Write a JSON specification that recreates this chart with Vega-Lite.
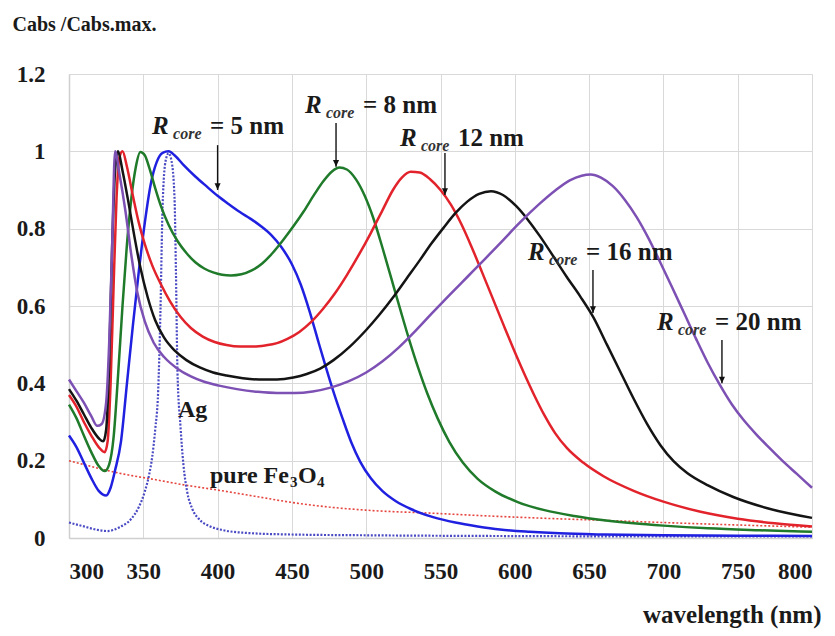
{
  "$schema": "https://vega.github.io/schema/vega-lite/v6.json",
  "width": 743,
  "height": 464,
  "autosize": {"type": "none"},
  "padding": {"left": 69, "top": 74, "right": 23, "bottom": 98},
  "background": "white",
  "config": {
    "view": {"stroke": null},
    "axis": {
      "labelFontWeight": "bold",
      "labelColor": "#1a1a1a",
      "titleFontWeight": "bold",
      "titleColor": "#1a1a1a",
      "gridColor": "#d9d9d9",
      "gridWidth": 1,
      "domainColor": "#cfcfcf",
      "domainWidth": 1.5,
      "ticks": false
    }
  },
  "datasets": {
    "curves": [
      {"s":"R5","wl":300,"v":0.265},{"s":"R5","wl":305,"v":0.235},{"s":"R5","wl":310,"v":0.195},{"s":"R5","wl":315,"v":0.155},{"s":"R5","wl":320,"v":0.122},{"s":"R5","wl":325,"v":0.11},{"s":"R5","wl":328,"v":0.13},{"s":"R5","wl":331,"v":0.175},{"s":"R5","wl":335,"v":0.25},{"s":"R5","wl":339,"v":0.4},{"s":"R5","wl":343,"v":0.55},{"s":"R5","wl":347,"v":0.69},{"s":"R5","wl":351,"v":0.815},{"s":"R5","wl":355,"v":0.915},{"s":"R5","wl":359,"v":0.972},{"s":"R5","wl":363,"v":0.996},{"s":"R5","wl":367,"v":1.0},{"s":"R5","wl":371,"v":0.99},{"s":"R5","wl":377,"v":0.965},{"s":"R5","wl":385,"v":0.935},{"s":"R5","wl":393,"v":0.908},{"s":"R5","wl":400,"v":0.885},{"s":"R5","wl":408,"v":0.862},{"s":"R5","wl":415,"v":0.843},{"s":"R5","wl":422,"v":0.826},{"s":"R5","wl":429,"v":0.807},{"s":"R5","wl":436,"v":0.784},{"s":"R5","wl":443,"v":0.752},{"s":"R5","wl":450,"v":0.708},{"s":"R5","wl":456,"v":0.655},{"s":"R5","wl":462,"v":0.585},{"s":"R5","wl":468,"v":0.505},{"s":"R5","wl":473,"v":0.44},{"s":"R5","wl":478,"v":0.378},{"s":"R5","wl":484,"v":0.31},{"s":"R5","wl":490,"v":0.247},{"s":"R5","wl":496,"v":0.197},{"s":"R5","wl":503,"v":0.155},{"s":"R5","wl":511,"v":0.121},{"s":"R5","wl":520,"v":0.095},{"s":"R5","wl":530,"v":0.075},{"s":"R5","wl":545,"v":0.054},{"s":"R5","wl":560,"v":0.04},{"s":"R5","wl":575,"v":0.03},{"s":"R5","wl":590,"v":0.022},{"s":"R5","wl":610,"v":0.016},{"s":"R5","wl":630,"v":0.012},{"s":"R5","wl":660,"v":0.009},{"s":"R5","wl":700,"v":0.007},{"s":"R5","wl":750,"v":0.006},{"s":"R5","wl":800,"v":0.005},

      {"s":"R8","wl":300,"v":0.345},{"s":"R8","wl":305,"v":0.31},{"s":"R8","wl":310,"v":0.265},{"s":"R8","wl":315,"v":0.222},{"s":"R8","wl":320,"v":0.186},{"s":"R8","wl":324,"v":0.173},{"s":"R8","wl":327,"v":0.19},{"s":"R8","wl":330,"v":0.26},{"s":"R8","wl":333,"v":0.42},{"s":"R8","wl":336,"v":0.6},{"s":"R8","wl":339,"v":0.76},{"s":"R8","wl":342,"v":0.88},{"s":"R8","wl":345,"v":0.96},{"s":"R8","wl":348,"v":0.998},{"s":"R8","wl":351,"v":0.99},{"s":"R8","wl":354,"v":0.958},{"s":"R8","wl":358,"v":0.905},{"s":"R8","wl":362,"v":0.857},{"s":"R8","wl":367,"v":0.81},{"s":"R8","wl":373,"v":0.768},{"s":"R8","wl":379,"v":0.737},{"s":"R8","wl":385,"v":0.713},{"s":"R8","wl":391,"v":0.697},{"s":"R8","wl":397,"v":0.687},{"s":"R8","wl":403,"v":0.681},{"s":"R8","wl":409,"v":0.679},{"s":"R8","wl":416,"v":0.682},{"s":"R8","wl":423,"v":0.692},{"s":"R8","wl":430,"v":0.71},{"s":"R8","wl":437,"v":0.737},{"s":"R8","wl":444,"v":0.77},{"s":"R8","wl":451,"v":0.806},{"s":"R8","wl":458,"v":0.845},{"s":"R8","wl":465,"v":0.888},{"s":"R8","wl":471,"v":0.922},{"s":"R8","wl":477,"v":0.948},{"s":"R8","wl":482,"v":0.958},{"s":"R8","wl":487,"v":0.953},{"s":"R8","wl":493,"v":0.928},{"s":"R8","wl":499,"v":0.885},{"s":"R8","wl":505,"v":0.825},{"s":"R8","wl":511,"v":0.75},{"s":"R8","wl":517,"v":0.67},{"s":"R8","wl":523,"v":0.59},{"s":"R8","wl":529,"v":0.512},{"s":"R8","wl":535,"v":0.44},{"s":"R8","wl":541,"v":0.375},{"s":"R8","wl":548,"v":0.31},{"s":"R8","wl":556,"v":0.248},{"s":"R8","wl":565,"v":0.195},{"s":"R8","wl":575,"v":0.153},{"s":"R8","wl":587,"v":0.12},{"s":"R8","wl":602,"v":0.093},{"s":"R8","wl":620,"v":0.072},{"s":"R8","wl":640,"v":0.057},{"s":"R8","wl":660,"v":0.046},{"s":"R8","wl":680,"v":0.038},{"s":"R8","wl":700,"v":0.032},{"s":"R8","wl":730,"v":0.025},{"s":"R8","wl":765,"v":0.02},{"s":"R8","wl":800,"v":0.016},

      {"s":"R12","wl":300,"v":0.37},{"s":"R12","wl":305,"v":0.34},{"s":"R12","wl":310,"v":0.3},{"s":"R12","wl":315,"v":0.265},{"s":"R12","wl":320,"v":0.235},{"s":"R12","wl":324,"v":0.222},{"s":"R12","wl":326,"v":0.25},{"s":"R12","wl":328,"v":0.4},{"s":"R12","wl":330,"v":0.65},{"s":"R12","wl":332,"v":0.88},{"s":"R12","wl":334,"v":0.985},{"s":"R12","wl":336,"v":1.0},{"s":"R12","wl":339,"v":0.96},{"s":"R12","wl":343,"v":0.885},{"s":"R12","wl":347,"v":0.815},{"s":"R12","wl":351,"v":0.76},{"s":"R12","wl":356,"v":0.705},{"s":"R12","wl":362,"v":0.655},{"s":"R12","wl":368,"v":0.612},{"s":"R12","wl":375,"v":0.572},{"s":"R12","wl":382,"v":0.543},{"s":"R12","wl":390,"v":0.521},{"s":"R12","wl":398,"v":0.507},{"s":"R12","wl":406,"v":0.499},{"s":"R12","wl":415,"v":0.495},{"s":"R12","wl":424,"v":0.495},{"s":"R12","wl":432,"v":0.498},{"s":"R12","wl":440,"v":0.504},{"s":"R12","wl":447,"v":0.515},{"s":"R12","wl":455,"v":0.533},{"s":"R12","wl":463,"v":0.559},{"s":"R12","wl":471,"v":0.593},{"s":"R12","wl":479,"v":0.633},{"s":"R12","wl":487,"v":0.68},{"s":"R12","wl":495,"v":0.732},{"s":"R12","wl":503,"v":0.788},{"s":"R12","wl":511,"v":0.848},{"s":"R12","wl":518,"v":0.9},{"s":"R12","wl":524,"v":0.932},{"s":"R12","wl":530,"v":0.947},{"s":"R12","wl":536,"v":0.945},{"s":"R12","wl":543,"v":0.928},{"s":"R12","wl":550,"v":0.9},{"s":"R12","wl":557,"v":0.862},{"s":"R12","wl":564,"v":0.812},{"s":"R12","wl":571,"v":0.752},{"s":"R12","wl":578,"v":0.687},{"s":"R12","wl":585,"v":0.621},{"s":"R12","wl":592,"v":0.555},{"s":"R12","wl":599,"v":0.49},{"s":"R12","wl":606,"v":0.428},{"s":"R12","wl":613,"v":0.37},{"s":"R12","wl":620,"v":0.317},{"s":"R12","wl":627,"v":0.272},{"s":"R12","wl":635,"v":0.233},{"s":"R12","wl":646,"v":0.195},{"s":"R12","wl":660,"v":0.159},{"s":"R12","wl":680,"v":0.122},{"s":"R12","wl":700,"v":0.094},{"s":"R12","wl":725,"v":0.068},{"s":"R12","wl":750,"v":0.05},{"s":"R12","wl":775,"v":0.038},{"s":"R12","wl":800,"v":0.03},

      {"s":"R16","wl":300,"v":0.385},{"s":"R16","wl":305,"v":0.355},{"s":"R16","wl":310,"v":0.32},{"s":"R16","wl":315,"v":0.285},{"s":"R16","wl":320,"v":0.258},{"s":"R16","wl":323,"v":0.25},{"s":"R16","wl":325,"v":0.28},{"s":"R16","wl":327,"v":0.45},{"s":"R16","wl":329,"v":0.75},{"s":"R16","wl":331,"v":0.95},{"s":"R16","wl":333,"v":1.0},{"s":"R16","wl":336,"v":0.95},{"s":"R16","wl":340,"v":0.868},{"s":"R16","wl":344,"v":0.78},{"s":"R16","wl":348,"v":0.7},{"s":"R16","wl":353,"v":0.622},{"s":"R16","wl":358,"v":0.563},{"s":"R16","wl":364,"v":0.518},{"s":"R16","wl":371,"v":0.485},{"s":"R16","wl":379,"v":0.46},{"s":"R16","wl":388,"v":0.441},{"s":"R16","wl":397,"v":0.428},{"s":"R16","wl":406,"v":0.42},{"s":"R16","wl":417,"v":0.413},{"s":"R16","wl":428,"v":0.41},{"s":"R16","wl":440,"v":0.41},{"s":"R16","wl":451,"v":0.415},{"s":"R16","wl":460,"v":0.424},{"s":"R16","wl":469,"v":0.438},{"s":"R16","wl":478,"v":0.46},{"s":"R16","wl":489,"v":0.495},{"s":"R16","wl":500,"v":0.538},{"s":"R16","wl":509,"v":0.578},{"s":"R16","wl":518,"v":0.622},{"s":"R16","wl":527,"v":0.67},{"s":"R16","wl":536,"v":0.718},{"s":"R16","wl":544,"v":0.762},{"s":"R16","wl":552,"v":0.802},{"s":"R16","wl":560,"v":0.84},{"s":"R16","wl":568,"v":0.87},{"s":"R16","wl":576,"v":0.89},{"s":"R16","wl":584,"v":0.897},{"s":"R16","wl":592,"v":0.887},{"s":"R16","wl":601,"v":0.858},{"s":"R16","wl":609,"v":0.822},{"s":"R16","wl":617,"v":0.78},{"s":"R16","wl":626,"v":0.728},{"s":"R16","wl":635,"v":0.675},{"s":"R16","wl":644,"v":0.625},{"s":"R16","wl":653,"v":0.57},{"s":"R16","wl":662,"v":0.5},{"s":"R16","wl":671,"v":0.43},{"s":"R16","wl":680,"v":0.36},{"s":"R16","wl":689,"v":0.295},{"s":"R16","wl":698,"v":0.24},{"s":"R16","wl":707,"v":0.198},{"s":"R16","wl":716,"v":0.168},{"s":"R16","wl":730,"v":0.136},{"s":"R16","wl":747,"v":0.106},{"s":"R16","wl":770,"v":0.077},{"s":"R16","wl":800,"v":0.052},

      {"s":"R20","wl":300,"v":0.41},{"s":"R20","wl":305,"v":0.38},{"s":"R20","wl":310,"v":0.35},{"s":"R20","wl":315,"v":0.315},{"s":"R20","wl":319,"v":0.29},{"s":"R20","wl":322,"v":0.295},{"s":"R20","wl":325,"v":0.35},{"s":"R20","wl":327,"v":0.5},{"s":"R20","wl":329,"v":0.75},{"s":"R20","wl":331,"v":1.0},{"s":"R20","wl":334,"v":0.94},{"s":"R20","wl":338,"v":0.845},{"s":"R20","wl":342,"v":0.73},{"s":"R20","wl":346,"v":0.635},{"s":"R20","wl":351,"v":0.56},{"s":"R20","wl":357,"v":0.505},{"s":"R20","wl":364,"v":0.468},{"s":"R20","wl":373,"v":0.438},{"s":"R20","wl":382,"v":0.418},{"s":"R20","wl":391,"v":0.404},{"s":"R20","wl":401,"v":0.394},{"s":"R20","wl":413,"v":0.385},{"s":"R20","wl":427,"v":0.378},{"s":"R20","wl":440,"v":0.375},{"s":"R20","wl":452,"v":0.375},{"s":"R20","wl":464,"v":0.379},{"s":"R20","wl":476,"v":0.389},{"s":"R20","wl":488,"v":0.405},{"s":"R20","wl":500,"v":0.428},{"s":"R20","wl":511,"v":0.457},{"s":"R20","wl":522,"v":0.493},{"s":"R20","wl":533,"v":0.535},{"s":"R20","wl":544,"v":0.58},{"s":"R20","wl":556,"v":0.628},{"s":"R20","wl":568,"v":0.675},{"s":"R20","wl":580,"v":0.722},{"s":"R20","wl":592,"v":0.77},{"s":"R20","wl":604,"v":0.818},{"s":"R20","wl":616,"v":0.862},{"s":"R20","wl":627,"v":0.898},{"s":"R20","wl":637,"v":0.925},{"s":"R20","wl":645,"v":0.937},{"s":"R20","wl":651,"v":0.94},{"s":"R20","wl":658,"v":0.932},{"s":"R20","wl":666,"v":0.91},{"s":"R20","wl":674,"v":0.875},{"s":"R20","wl":682,"v":0.83},{"s":"R20","wl":690,"v":0.775},{"s":"R20","wl":698,"v":0.712},{"s":"R20","wl":706,"v":0.647},{"s":"R20","wl":714,"v":0.581},{"s":"R20","wl":722,"v":0.515},{"s":"R20","wl":730,"v":0.452},{"s":"R20","wl":738,"v":0.396},{"s":"R20","wl":746,"v":0.346},{"s":"R20","wl":754,"v":0.305},{"s":"R20","wl":762,"v":0.27},{"s":"R20","wl":770,"v":0.238},{"s":"R20","wl":780,"v":0.2},{"s":"R20","wl":790,"v":0.165},{"s":"R20","wl":800,"v":0.13},

      {"s":"Ag","wl":300,"v":0.04},{"s":"Ag","wl":310,"v":0.03},{"s":"Ag","wl":318,"v":0.022},{"s":"Ag","wl":326,"v":0.018},{"s":"Ag","wl":334,"v":0.028},{"s":"Ag","wl":342,"v":0.05},{"s":"Ag","wl":347,"v":0.08},{"s":"Ag","wl":351,"v":0.12},{"s":"Ag","wl":354,"v":0.165},{"s":"Ag","wl":356,"v":0.21},{"s":"Ag","wl":358,"v":0.28},{"s":"Ag","wl":360,"v":0.38},{"s":"Ag","wl":361.5,"v":0.58},{"s":"Ag","wl":363,"v":0.86},{"s":"Ag","wl":365,"v":0.975},{"s":"Ag","wl":367,"v":0.995},{"s":"Ag","wl":369,"v":0.975},{"s":"Ag","wl":371,"v":0.88},{"s":"Ag","wl":372,"v":0.68},{"s":"Ag","wl":373,"v":0.43},{"s":"Ag","wl":375,"v":0.29},{"s":"Ag","wl":377,"v":0.19},{"s":"Ag","wl":379.5,"v":0.12},{"s":"Ag","wl":383,"v":0.075},{"s":"Ag","wl":388,"v":0.047},{"s":"Ag","wl":395,"v":0.03},{"s":"Ag","wl":404,"v":0.02},{"s":"Ag","wl":420,"v":0.013},{"s":"Ag","wl":450,"v":0.009},{"s":"Ag","wl":500,"v":0.007},{"s":"Ag","wl":600,"v":0.005},{"s":"Ag","wl":700,"v":0.004},{"s":"Ag","wl":800,"v":0.004},

      {"s":"Fe","wl":300,"v":0.2},{"s":"Fe","wl":310,"v":0.19},{"s":"Fe","wl":320,"v":0.18},{"s":"Fe","wl":331,"v":0.17},{"s":"Fe","wl":340,"v":0.163},{"s":"Fe","wl":355,"v":0.153},{"s":"Fe","wl":378,"v":0.137},{"s":"Fe","wl":400,"v":0.124},{"s":"Fe","wl":425,"v":0.108},{"s":"Fe","wl":450,"v":0.092},{"s":"Fe","wl":475,"v":0.08},{"s":"Fe","wl":500,"v":0.072},{"s":"Fe","wl":545,"v":0.064},{"s":"Fe","wl":588,"v":0.056},{"s":"Fe","wl":620,"v":0.051},{"s":"Fe","wl":657,"v":0.046},{"s":"Fe","wl":700,"v":0.04},{"s":"Fe","wl":747,"v":0.034},{"s":"Fe","wl":800,"v":0.028}
    ],
    "arrows": [
      {"wl": 400, "v": 1.016, "v2": 0.9},
      {"wl": 479.7, "v": 1.073, "v2": 0.96},
      {"wl": 553, "v": 0.996, "v2": 0.887},
      {"wl": 652.6, "v": 0.693, "v2": 0.582},
      {"wl": 739.4, "v": 0.512, "v2": 0.4}
    ],
    "annots": [
      {"wl": 355.9, "v": 1.045, "rest": "= 5 nm"},
      {"wl": 458.8, "v": 1.1, "rest": "= 8 nm"},
      {"wl": 522.7, "v": 1.014, "rest": "12 nm"},
      {"wl": 608.9, "v": 0.719, "rest": "= 16 nm"},
      {"wl": 695.7, "v": 0.538, "rest": "= 20 nm"}
    ],
    "labels": [
      {"wl": 373.3, "v": 0.313, "label": "Ag"},
      {"wl": 394.9, "v": 0.142, "label": "pure Fe"}
    ],
    "fe": [{"wl": 394.9, "v": 0.142}]
  },
  "encoding": {
    "x": {
      "field": "wl", "type": "quantitative",
      "scale": {"domain": [300, 800], "nice": false, "zero": false},
      "axis": {
        "values": [300, 350, 400, 450, 500, 550, 600, 650, 700, 750, 800],
        "labelFont": "Liberation Serif", "labelFontSize": 23, "labelPadding": 22,
        "title": "wavelength (nm)", "titleFont": "Liberation Serif", "titleFontSize": 25,
        "titleAnchor": "end", "titleAlign": "right", "titleBaseline": "middle",
        "titleX": 752, "titleY": 76
      }
    },
    "y": {
      "field": "v", "type": "quantitative",
      "scale": {"domain": [0, 1.2], "nice": false},
      "axis": {
        "values": [0, 0.2, 0.4, 0.6, 0.8, 1, 1.2],
        "format": "~g",
        "labelFont": "Liberation Serif", "labelFontSize": 23, "labelPadding": 24,
        "title": "Cabs /Cabs.max.", "titleFont": "Liberation Serif", "titleFontSize": 20, "titleAngle": 0,
        "titleAlign": "left", "titleBaseline": "middle",
        "titleX": -57, "titleY": -50
      }
    }
  },
  "layer": [
    {
      "data": {"name": "curves"},
      "transform": [{"filter": "datum.s === 'Fe'"}],
      "mark": {"type": "line", "color": "#e5453f", "strokeWidth": 1.6, "strokeDash": [2, 2], "interpolate": "monotone"}
    },
    {
      "data": {"name": "curves"},
      "transform": [{"filter": "datum.s === 'Ag'"}],
      "mark": {"type": "line", "color": "#4a4ac4", "strokeWidth": 2.2, "strokeDash": [2, 1.6], "interpolate": "monotone"}
    },
    {
      "data": {"name": "curves"},
      "transform": [{"filter": "datum.s !== 'Ag' && datum.s !== 'Fe'"}],
      "mark": {"type": "line", "strokeWidth": 2.5, "interpolate": "monotone"},
      "encoding": {
        "color": {
          "field": "s", "type": "nominal", "legend": null,
          "scale": {"domain": ["R20", "R16", "R12", "R8", "R5"], "range": ["#7d50b4", "#141414", "#e2232b", "#1f7a2a", "#2020e0"]}
        }
      }
    },
    {
      "data": {"name": "arrows"},
      "mark": {"type": "rule", "color": "#111111", "strokeWidth": 1.4},
      "encoding": {"y2": {"field": "v2"}}
    },
    {
      "data": {"name": "arrows"},
      "mark": {"type": "point", "shape": "M-0.45,-1L0.45,-1L0,0Z", "filled": true, "color": "#111111", "size": 180, "opacity": 1},
      "encoding": {"y": {"field": "v2", "type": "quantitative"}}
    },
    {
      "data": {"name": "annots"},
      "mark": {"type": "text", "text": "R", "font": "Liberation Serif", "color": "#1a1a1a", "align": "left", "baseline": "alphabetic", "fontSize": 25, "fontStyle": "italic", "fontWeight": "bold"}
    },
    {
      "data": {"name": "annots"},
      "mark": {"type": "text", "text": "core", "font": "Liberation Serif", "align": "left", "baseline": "alphabetic", "fontSize": 16, "fontStyle": "italic", "fontWeight": "bold", "dx": 21, "dy": 5, "color": "#333333"}
    },
    {
      "data": {"name": "annots"},
      "mark": {"type": "text", "font": "Liberation Serif", "color": "#1a1a1a", "align": "left", "baseline": "alphabetic", "fontSize": 25, "fontWeight": "bold", "dx": 58},
      "encoding": {"text": {"field": "rest"}}
    },
    {
      "data": {"name": "labels"},
      "mark": {"type": "text", "font": "Liberation Serif", "color": "#1a1a1a", "align": "left", "baseline": "alphabetic", "fontSize": 24, "fontWeight": "bold"},
      "encoding": {"text": {"field": "label"}}
    },
    {
      "data": {"name": "fe"},
      "mark": {"type": "text", "text": "3", "font": "Liberation Serif", "color": "#1a1a1a", "align": "left", "baseline": "alphabetic", "fontSize": 15, "fontWeight": "bold", "dx": 80, "dy": 4}
    },
    {
      "data": {"name": "fe"},
      "mark": {"type": "text", "text": "O", "font": "Liberation Serif", "color": "#1a1a1a", "align": "left", "baseline": "alphabetic", "fontSize": 24, "fontWeight": "bold", "dx": 88}
    },
    {
      "data": {"name": "fe"},
      "mark": {"type": "text", "text": "4", "font": "Liberation Serif", "color": "#1a1a1a", "align": "left", "baseline": "alphabetic", "fontSize": 15, "fontWeight": "bold", "dx": 107, "dy": 4}
    }
  ]
}
